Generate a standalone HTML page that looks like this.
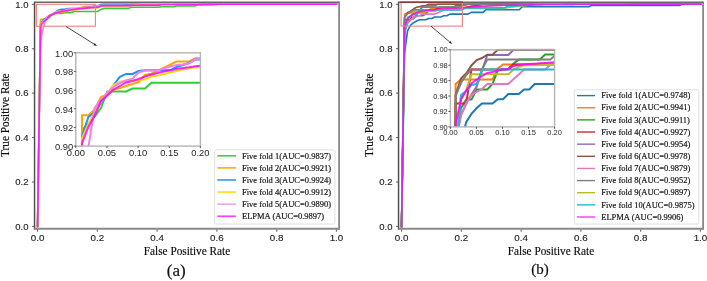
<!DOCTYPE html><html><head><meta charset="utf-8"><style>html,body{margin:0;padding:0;background:#fff;width:707px;height:281px;overflow:hidden}svg{display:block;will-change:transform}</style></head><body>
<svg width="707" height="281" viewBox="0 0 707 281">
<rect width="707" height="281" fill="#fff"/>
<g fill="none" stroke-width="1.6" stroke-linejoin="round" stroke-linecap="square">
<polyline points="37.55,226.40 40.57,22.63 43.59,21.13 46.61,19.46 49.63,17.44 52.65,13.51 55.67,13.51 58.68,13.51 61.70,13.51 64.72,12.80 67.74,12.80 70.76,12.80 73.78,11.44 76.80,11.44 79.82,11.44 82.84,11.44 85.86,11.44 88.88,11.44 91.90,11.44 94.91,11.44 97.93,11.44 100.95,9.41 103.97,8.41 106.99,8.41 110.01,8.41 113.03,8.41 116.05,8.41 119.07,8.41 122.09,8.41 125.11,8.41 128.13,8.41 131.14,7.30 134.16,7.30 137.18,7.30 140.20,7.30 143.22,7.30 146.24,7.30 149.26,7.30 152.28,7.30 155.30,7.30 158.32,7.30 161.34,6.74 164.36,6.74 167.38,6.74 170.39,6.74 173.41,6.74 176.43,5.97 179.45,5.97 182.47,5.97 185.49,5.97 188.51,5.97 191.53,5.97 194.55,5.97 197.57,4.97 200.59,4.87 203.61,4.78 206.62,4.68 209.64,4.59 212.66,4.49 215.68,4.40 218.70,4.30 221.72,4.30 224.74,4.30 227.76,4.30 230.78,4.30 233.80,4.30 236.82,4.30 239.84,4.30 242.86,4.30 245.87,4.30 248.89,4.30 251.91,4.30 254.93,4.30 257.95,4.30 260.97,4.30 263.99,4.30 267.01,4.30 270.03,4.30 273.05,4.30 276.07,4.30 279.09,4.30 282.10,4.30 285.12,4.30 288.14,4.30 291.16,4.30 294.18,4.30 297.20,4.30 300.22,4.30 303.24,4.30 306.26,4.30 309.28,4.30 312.30,4.30 315.32,4.30 318.33,4.30 321.35,4.30 324.37,4.30 327.39,4.30 330.41,4.30 333.43,4.30 336.45,4.30" stroke="#32cd32"/>
<polyline points="37.55,226.40 40.57,19.18 43.59,19.18 46.61,17.80 49.63,14.82 52.65,14.23 55.67,13.16 58.68,12.68 61.70,12.20 64.72,11.73 67.74,11.30 70.76,9.58 73.78,9.28 76.80,8.58 79.82,7.85 82.84,7.11 85.86,6.37 88.88,6.37 91.90,6.37 94.91,5.61 97.93,5.61 100.95,4.97 103.97,4.30 106.99,4.30 110.01,4.30 113.03,4.30 116.05,4.30 119.07,4.30 122.09,4.30 125.11,4.30 128.13,4.30 131.14,4.30 134.16,4.30 137.18,4.30 140.20,4.30 143.22,4.30 146.24,4.30 149.26,4.30 152.28,4.30 155.30,4.30 158.32,4.30 161.34,4.30 164.36,4.30 167.38,4.30 170.39,4.30 173.41,4.30 176.43,4.30 179.45,4.30 182.47,4.30 185.49,4.30 188.51,4.30 191.53,4.30 194.55,4.30 197.57,4.30 200.59,4.30 203.61,4.30 206.62,4.30 209.64,4.30 212.66,4.30 215.68,4.30 218.70,4.30 221.72,4.30 224.74,4.30 227.76,4.30 230.78,4.30 233.80,4.30 236.82,4.30 239.84,4.30 242.86,4.30 245.87,4.30 248.89,4.30 251.91,4.30 254.93,4.30 257.95,4.30 260.97,4.30 263.99,4.30 267.01,4.30 270.03,4.30 273.05,4.30 276.07,4.30 279.09,4.30 282.10,4.30 285.12,4.30 288.14,4.30 291.16,4.30 294.18,4.30 297.20,4.30 300.22,4.30 303.24,4.30 306.26,4.30 309.28,4.30 312.30,4.30 315.32,4.30 318.33,4.30 321.35,4.30 324.37,4.30 327.39,4.30 330.41,4.30 333.43,4.30 336.45,4.30" stroke="#ffa500"/>
<polyline points="37.55,226.40 40.57,24.11 43.59,19.58 46.61,18.39 49.63,16.25 52.65,14.11 55.67,11.97 58.68,10.04 61.70,9.32 64.72,9.32 67.74,8.63 70.76,8.47 73.78,8.47 76.80,8.47 79.82,8.47 82.84,8.47 85.86,7.68 88.88,7.20 91.90,6.73 94.91,5.92 97.93,5.92 100.95,4.30 103.97,4.30 106.99,4.30 110.01,4.30 113.03,4.30 116.05,4.30 119.07,4.30 122.09,4.30 125.11,4.30 128.13,4.30 131.14,4.30 134.16,4.30 137.18,4.30 140.20,4.30 143.22,4.30 146.24,4.30 149.26,4.30 152.28,4.30 155.30,4.30 158.32,4.30 161.34,4.30 164.36,4.30 167.38,4.30 170.39,4.30 173.41,4.30 176.43,4.30 179.45,4.30 182.47,4.30 185.49,4.30 188.51,4.30 191.53,4.30 194.55,4.30 197.57,4.30 200.59,4.30 203.61,4.30 206.62,4.30 209.64,4.30 212.66,4.30 215.68,4.30 218.70,4.30 221.72,4.30 224.74,4.30 227.76,4.30 230.78,4.30 233.80,4.30 236.82,4.30 239.84,4.30 242.86,4.30 245.87,4.30 248.89,4.30 251.91,4.30 254.93,4.30 257.95,4.30 260.97,4.30 263.99,4.30 267.01,4.30 270.03,4.30 273.05,4.30 276.07,4.30 279.09,4.30 282.10,4.30 285.12,4.30 288.14,4.30 291.16,4.30 294.18,4.30 297.20,4.30 300.22,4.30 303.24,4.30 306.26,4.30 309.28,4.30 312.30,4.30 315.32,4.30 318.33,4.30 321.35,4.30 324.37,4.30 327.39,4.30 330.41,4.30 333.43,4.30 336.45,4.30" stroke="#1e90ff"/>
<polyline points="37.55,226.40 40.57,24.58 43.59,21.25 46.61,18.39 49.63,16.01 52.65,13.87 55.67,11.97 58.68,11.25 61.70,10.89 64.72,10.89 67.74,10.77 70.76,10.68 73.78,9.94 76.80,9.73 79.82,9.35 82.84,8.97 85.86,8.63 88.88,8.28 91.90,7.97 94.91,7.75 97.93,7.75 100.95,6.52 103.97,6.45 106.99,6.37 110.01,6.30 113.03,6.22 116.05,6.15 119.07,6.08 122.09,6.00 125.11,5.93 128.13,5.85 131.14,5.47 134.16,5.08 137.18,4.69 140.20,4.30 143.22,4.30 146.24,4.30 149.26,4.30 152.28,4.30 155.30,4.30 158.32,4.30 161.34,4.30 164.36,4.30 167.38,4.30 170.39,4.30 173.41,4.30 176.43,4.30 179.45,4.30 182.47,4.30 185.49,4.30 188.51,4.30 191.53,4.30 194.55,4.30 197.57,4.30 200.59,4.30 203.61,4.30 206.62,4.30 209.64,4.30 212.66,4.30 215.68,4.30 218.70,4.30 221.72,4.30 224.74,4.30 227.76,4.30 230.78,4.30 233.80,4.30 236.82,4.30 239.84,4.30 242.86,4.30 245.87,4.30 248.89,4.30 251.91,4.30 254.93,4.30 257.95,4.30 260.97,4.30 263.99,4.30 267.01,4.30 270.03,4.30 273.05,4.30 276.07,4.30 279.09,4.30 282.10,4.30 285.12,4.30 288.14,4.30 291.16,4.30 294.18,4.30 297.20,4.30 300.22,4.30 303.24,4.30 306.26,4.30 309.28,4.30 312.30,4.30 315.32,4.30 318.33,4.30 321.35,4.30 324.37,4.30 327.39,4.30 330.41,4.30 333.43,4.30 336.45,4.30" stroke="#ffd700"/>
<polyline points="37.55,226.40 40.57,39.84 43.59,26.72 46.61,17.44 49.63,15.54 52.65,13.87 55.67,12.44 58.68,11.49 61.70,10.89 64.72,10.47 67.74,8.99 70.76,8.54 73.78,8.53 76.80,8.51 79.82,8.04 82.84,7.56 85.86,7.20 88.88,7.06 91.90,6.87 94.91,5.85 97.93,5.78 100.95,5.41 103.97,5.41 106.99,5.41 110.01,5.41 113.03,5.41 116.05,5.41 119.07,5.41 122.09,5.41 125.11,5.41 128.13,5.41 131.14,5.41 134.16,5.41 137.18,5.41 140.20,5.41 143.22,5.41 146.24,5.41 149.26,5.41 152.28,5.41 155.30,5.41 158.32,5.41 161.34,4.30 164.36,4.30 167.38,4.30 170.39,4.30 173.41,4.30 176.43,4.30 179.45,4.30 182.47,4.30 185.49,4.30 188.51,4.30 191.53,4.30 194.55,4.30 197.57,4.30 200.59,4.30 203.61,4.30 206.62,4.30 209.64,4.30 212.66,4.30 215.68,4.30 218.70,4.30 221.72,4.30 224.74,4.30 227.76,4.30 230.78,4.30 233.80,4.30 236.82,4.30 239.84,4.30 242.86,4.30 245.87,4.30 248.89,4.30 251.91,4.30 254.93,4.30 257.95,4.30 260.97,4.30 263.99,4.30 267.01,4.30 270.03,4.30 273.05,4.30 276.07,4.30 279.09,4.30 282.10,4.30 285.12,4.30 288.14,4.30 291.16,4.30 294.18,4.30 297.20,4.30 300.22,4.30 303.24,4.30 306.26,4.30 309.28,4.30 312.30,4.30 315.32,4.30 318.33,4.30 321.35,4.30 324.37,4.30 327.39,4.30 330.41,4.30 333.43,4.30 336.45,4.30" stroke="#ee82ee"/>
<polyline points="37.55,226.40 40.57,25.72 43.59,21.96 46.61,19.23 49.63,15.77 52.65,14.46 55.67,13.04 58.68,12.20 61.70,11.37 64.72,11.01 67.74,10.54 70.76,9.94 73.78,9.47 76.80,9.11 79.82,8.75 82.84,8.47 85.86,8.16 88.88,7.92 91.90,7.73 94.91,7.49 97.93,7.39 100.95,6.12 103.97,5.77 106.99,5.76 110.01,5.74 113.03,5.73 116.05,5.71 119.07,5.70 122.09,5.68 125.11,5.67 128.13,5.65 131.14,5.35 134.16,5.28 137.18,5.20 140.20,5.12 143.22,5.12 146.24,5.12 149.26,5.12 152.28,5.12 155.30,5.12 158.32,5.12 161.34,4.79 164.36,4.79 167.38,4.79 170.39,4.79 173.41,4.79 176.43,4.63 179.45,4.63 182.47,4.63 185.49,4.63 188.51,4.63 191.53,4.63 194.55,4.63 197.57,4.43 200.59,4.41 203.61,4.40 206.62,4.38 209.64,4.36 212.66,4.34 215.68,4.32 218.70,4.30 221.72,4.30 224.74,4.30 227.76,4.30 230.78,4.30 233.80,4.30 236.82,4.30 239.84,4.30 242.86,4.30 245.87,4.30 248.89,4.30 251.91,4.30 254.93,4.30 257.95,4.30 260.97,4.30 263.99,4.30 267.01,4.30 270.03,4.30 273.05,4.30 276.07,4.30 279.09,4.30 282.10,4.30 285.12,4.30 288.14,4.30 291.16,4.30 294.18,4.30 297.20,4.30 300.22,4.30 303.24,4.30 306.26,4.30 309.28,4.30 312.30,4.30 315.32,4.30 318.33,4.30 321.35,4.30 324.37,4.30 327.39,4.30 330.41,4.30 333.43,4.30 336.45,4.30" stroke="#ff00ff" stroke-opacity="0.8"/>
</g>
<rect x="36.4" y="4.3" width="59.0" height="21.9" fill="none" stroke="#f08080" stroke-width="1.1"/>
<line x1="37.55" y1="228.85" x2="37.55" y2="231.65" stroke="#6e6e6e" stroke-width="1.1"/>
<line x1="31.95" y1="226.40" x2="34.55" y2="226.40" stroke="#6e6e6e" stroke-width="1.1"/>
<text transform="translate(37.55,241.4) scale(1.09,1)" font-family='"Liberation Sans", sans-serif' font-size="9" text-anchor="middle" fill="#222" stroke="#222" stroke-width="0.12">0.0</text>
<text transform="translate(28.50,229.60) scale(1.06,1)" font-family='"Liberation Sans", sans-serif' font-size="9" text-anchor="end" fill="#222" stroke="#222" stroke-width="0.12">0.0</text>
<line x1="97.33" y1="228.85" x2="97.33" y2="231.65" stroke="#6e6e6e" stroke-width="1.1"/>
<line x1="31.95" y1="181.98" x2="34.55" y2="181.98" stroke="#6e6e6e" stroke-width="1.1"/>
<text transform="translate(97.33,241.4) scale(1.09,1)" font-family='"Liberation Sans", sans-serif' font-size="9" text-anchor="middle" fill="#222" stroke="#222" stroke-width="0.12">0.2</text>
<text transform="translate(28.50,185.18) scale(1.06,1)" font-family='"Liberation Sans", sans-serif' font-size="9" text-anchor="end" fill="#222" stroke="#222" stroke-width="0.12">0.2</text>
<line x1="157.11" y1="228.85" x2="157.11" y2="231.65" stroke="#6e6e6e" stroke-width="1.1"/>
<line x1="31.95" y1="137.56" x2="34.55" y2="137.56" stroke="#6e6e6e" stroke-width="1.1"/>
<text transform="translate(157.11,241.4) scale(1.09,1)" font-family='"Liberation Sans", sans-serif' font-size="9" text-anchor="middle" fill="#222" stroke="#222" stroke-width="0.12">0.4</text>
<text transform="translate(28.50,140.76) scale(1.06,1)" font-family='"Liberation Sans", sans-serif' font-size="9" text-anchor="end" fill="#222" stroke="#222" stroke-width="0.12">0.4</text>
<line x1="216.89" y1="228.85" x2="216.89" y2="231.65" stroke="#6e6e6e" stroke-width="1.1"/>
<line x1="31.95" y1="93.14" x2="34.55" y2="93.14" stroke="#6e6e6e" stroke-width="1.1"/>
<text transform="translate(216.89,241.4) scale(1.09,1)" font-family='"Liberation Sans", sans-serif' font-size="9" text-anchor="middle" fill="#222" stroke="#222" stroke-width="0.12">0.6</text>
<text transform="translate(28.50,96.34) scale(1.06,1)" font-family='"Liberation Sans", sans-serif' font-size="9" text-anchor="end" fill="#222" stroke="#222" stroke-width="0.12">0.6</text>
<line x1="276.67" y1="228.85" x2="276.67" y2="231.65" stroke="#6e6e6e" stroke-width="1.1"/>
<line x1="31.95" y1="48.72" x2="34.55" y2="48.72" stroke="#6e6e6e" stroke-width="1.1"/>
<text transform="translate(276.67,241.4) scale(1.09,1)" font-family='"Liberation Sans", sans-serif' font-size="9" text-anchor="middle" fill="#222" stroke="#222" stroke-width="0.12">0.8</text>
<text transform="translate(28.50,51.92) scale(1.06,1)" font-family='"Liberation Sans", sans-serif' font-size="9" text-anchor="end" fill="#222" stroke="#222" stroke-width="0.12">0.8</text>
<line x1="336.45" y1="228.85" x2="336.45" y2="231.65" stroke="#6e6e6e" stroke-width="1.1"/>
<line x1="31.95" y1="4.30" x2="34.55" y2="4.30" stroke="#6e6e6e" stroke-width="1.1"/>
<text transform="translate(336.45,241.4) scale(1.09,1)" font-family='"Liberation Sans", sans-serif' font-size="9" text-anchor="middle" fill="#222" stroke="#222" stroke-width="0.12">1.0</text>
<text transform="translate(28.50,7.50) scale(1.06,1)" font-family='"Liberation Sans", sans-serif' font-size="9" text-anchor="end" fill="#222" stroke="#222" stroke-width="0.12">1.0</text>
<line x1="34.55" y1="1.55" x2="34.55" y2="229.75" stroke="#4e4e4e" stroke-width="1.45"/>
<line x1="339.10" y1="1.55" x2="339.10" y2="229.75" stroke="#7a7a7a" stroke-width="1.6"/>
<line x1="34.55" y1="2.25" x2="339.10" y2="2.25" stroke="#686868" stroke-width="1.5"/>
<line x1="34.55" y1="228.85" x2="339.10" y2="228.85" stroke="#8a8a8a" stroke-width="2.0"/>
<text transform="translate(187,254.5) scale(0.985,1)" font-family='"Liberation Serif", serif' font-size="11.45" text-anchor="middle" fill="#0a0a0a" stroke="#0a0a0a" stroke-width="0.15">False Positive Rate</text>
<text transform="translate(9.0,115.2) rotate(-90) scale(0.985,1)" font-family='"Liberation Serif", serif' font-size="11.45" text-anchor="middle" fill="#0a0a0a" stroke="#0a0a0a" stroke-width="0.15">True Positive Rate</text>
<text x="176.20" y="275.5" font-family='"Liberation Serif", serif' font-size="17" text-anchor="middle" fill="#111" stroke="#111" stroke-width="0.2">(a)</text>
<g fill="none" stroke-width="1.6" stroke-linejoin="round" stroke-linecap="square">
<polyline points="401.55,226.40 404.57,53.16 407.59,30.95 410.61,25.18 413.63,22.74 416.65,21.07 419.67,19.80 422.68,19.80 425.70,19.80 428.72,18.53 431.74,18.53 434.76,17.03 437.78,17.03 440.80,17.03 443.82,15.74 446.84,15.74 449.86,14.15 452.88,14.15 455.90,14.15 458.91,14.15 461.93,14.15 464.95,14.15 467.97,14.15 470.99,12.41 474.01,12.41 477.03,12.41 480.05,12.41 483.07,12.41 486.09,9.70 489.11,9.70 492.13,9.70 495.14,9.70 498.16,9.70 501.18,9.70 504.20,9.70 507.22,9.70 510.24,9.70 513.26,9.70 516.28,9.70 519.30,9.70 522.32,6.74 525.34,6.74 528.36,6.74 531.38,6.74 534.39,6.74 537.41,6.74 540.43,6.74 543.45,6.74 546.47,6.74 549.49,6.74 552.51,6.74 555.53,6.74 558.55,6.74 561.57,6.74 564.59,6.74 567.61,6.74 570.62,6.74 573.64,6.74 576.66,6.74 579.68,6.74 582.70,6.74 585.72,6.74 588.74,6.74 591.76,5.41 594.78,5.41 597.80,5.41 600.82,5.41 603.84,5.41 606.86,5.41 609.87,5.41 612.89,5.41 615.91,5.41 618.93,5.41 621.95,5.41 624.97,5.41 627.99,5.41 631.01,5.41 634.03,5.41 637.05,5.41 640.07,5.41 643.09,5.41 646.10,5.41 649.12,5.41 652.14,5.41 655.16,5.41 658.18,5.41 661.20,5.41 664.22,5.41 667.24,5.41 670.26,5.41 673.28,5.41 676.30,5.41 679.32,5.41 682.33,4.30 685.35,4.30 688.37,4.30 691.39,4.30 694.41,4.30 697.43,4.30 700.45,4.30" stroke="#1f77b4"/>
<polyline points="401.55,226.40 404.57,14.15 407.59,12.86 410.61,12.86 413.63,12.86 416.65,12.86 419.67,12.86 422.68,12.86 425.70,12.86 428.72,9.69 431.74,8.51 434.76,8.51 437.78,8.51 440.80,8.51 443.82,8.51 446.84,8.51 449.86,8.51 452.88,8.51 455.90,8.51 458.91,8.51 461.93,8.51 464.95,7.51 467.97,6.52 470.99,5.97 474.01,5.41 477.03,4.86 480.05,4.30 483.07,4.30 486.09,4.30 489.11,4.30 492.13,4.30 495.14,4.30 498.16,4.30 501.18,4.30 504.20,4.30 507.22,4.30 510.24,4.30 513.26,4.30 516.28,4.30 519.30,4.30 522.32,4.30 525.34,4.30 528.36,4.30 531.38,4.30 534.39,4.30 537.41,4.30 540.43,4.30 543.45,4.30 546.47,4.30 549.49,4.30 552.51,4.30 555.53,4.30 558.55,4.30 561.57,4.30 564.59,4.30 567.61,4.30 570.62,4.30 573.64,4.30 576.66,4.30 579.68,4.30 582.70,4.30 585.72,4.30 588.74,4.30 591.76,4.30 594.78,4.30 597.80,4.30 600.82,4.30 603.84,4.30 606.86,4.30 609.87,4.30 612.89,4.30 615.91,4.30 618.93,4.30 621.95,4.30 624.97,4.30 627.99,4.30 631.01,4.30 634.03,4.30 637.05,4.30 640.07,4.30 643.09,4.30 646.10,4.30 649.12,4.30 652.14,4.30 655.16,4.30 658.18,4.30 661.20,4.30 664.22,4.30 667.24,4.30 670.26,4.30 673.28,4.30 676.30,4.30 679.32,4.30 682.33,4.30 685.35,4.30 688.37,4.30 691.39,4.30 694.41,4.30 697.43,4.30 700.45,4.30" stroke="#ff7f0e"/>
<polyline points="401.55,226.40 404.57,30.95 407.59,21.07 410.61,18.65 413.63,18.65 416.65,15.74 419.67,15.74 422.68,15.74 425.70,14.15 428.72,10.26 431.74,9.97 434.76,9.83 437.78,8.25 440.80,7.12 443.82,7.12 446.84,7.12 449.86,7.12 452.88,7.12 455.90,5.68 458.91,5.68 461.93,5.68 464.95,4.99 467.97,4.30 470.99,4.30 474.01,4.30 477.03,4.30 480.05,4.30 483.07,4.30 486.09,4.30 489.11,4.30 492.13,4.30 495.14,4.30 498.16,4.30 501.18,4.30 504.20,4.30 507.22,4.30 510.24,4.30 513.26,4.30 516.28,4.30 519.30,4.30 522.32,4.30 525.34,4.30 528.36,4.30 531.38,4.30 534.39,4.30 537.41,4.30 540.43,4.30 543.45,4.30 546.47,4.30 549.49,4.30 552.51,4.30 555.53,4.30 558.55,4.30 561.57,4.30 564.59,4.30 567.61,4.30 570.62,4.30 573.64,4.30 576.66,4.30 579.68,4.30 582.70,4.30 585.72,4.30 588.74,4.30 591.76,4.30 594.78,4.30 597.80,4.30 600.82,4.30 603.84,4.30 606.86,4.30 609.87,4.30 612.89,4.30 615.91,4.30 618.93,4.30 621.95,4.30 624.97,4.30 627.99,4.30 631.01,4.30 634.03,4.30 637.05,4.30 640.07,4.30 643.09,4.30 646.10,4.30 649.12,4.30 652.14,4.30 655.16,4.30 658.18,4.30 661.20,4.30 664.22,4.30 667.24,4.30 670.26,4.30 673.28,4.30 676.30,4.30 679.32,4.30 682.33,4.30 685.35,4.30 688.37,4.30 691.39,4.30 694.41,4.30 697.43,4.30 700.45,4.30" stroke="#2ca02c"/>
<polyline points="401.55,226.40 404.57,19.77 407.59,19.77 410.61,19.77 413.63,10.00 416.65,10.00 419.67,10.00 422.68,10.00 425.70,10.00 428.72,10.00 431.74,10.00 434.76,10.00 437.78,8.56 440.80,8.56 443.82,8.56 446.84,8.56 449.86,8.56 452.88,8.56 455.90,8.56 458.91,8.56 461.93,8.56 464.95,7.88 467.97,7.20 470.99,6.52 474.01,5.97 477.03,5.41 480.05,4.86 483.07,4.30 486.09,4.30 489.11,4.30 492.13,4.30 495.14,4.30 498.16,4.30 501.18,4.30 504.20,4.30 507.22,4.30 510.24,4.30 513.26,4.30 516.28,4.30 519.30,4.30 522.32,4.30 525.34,4.30 528.36,4.30 531.38,4.30 534.39,4.30 537.41,4.30 540.43,4.30 543.45,4.30 546.47,4.30 549.49,4.30 552.51,4.30 555.53,4.30 558.55,4.30 561.57,4.30 564.59,4.30 567.61,4.30 570.62,4.30 573.64,4.30 576.66,4.30 579.68,4.30 582.70,4.30 585.72,4.30 588.74,4.30 591.76,4.30 594.78,4.30 597.80,4.30 600.82,4.30 603.84,4.30 606.86,4.30 609.87,4.30 612.89,4.30 615.91,4.30 618.93,4.30 621.95,4.30 624.97,4.30 627.99,4.30 631.01,4.30 634.03,4.30 637.05,4.30 640.07,4.30 643.09,4.30 646.10,4.30 649.12,4.30 652.14,4.30 655.16,4.30 658.18,4.30 661.20,4.30 664.22,4.30 667.24,4.30 670.26,4.30 673.28,4.30 676.30,4.30 679.32,4.30 682.33,4.30 685.35,4.30 688.37,4.30 691.39,4.30 694.41,4.30 697.43,4.30 700.45,4.30" stroke="#d62728"/>
<polyline points="401.55,226.40 404.57,30.95 407.59,23.18 410.61,19.85 413.63,17.18 416.65,14.87 419.67,10.41 422.68,5.80 425.70,5.80 428.72,5.80 431.74,5.80 434.76,5.80 437.78,4.30 440.80,4.30 443.82,4.30 446.84,4.30 449.86,4.30 452.88,4.30 455.90,4.30 458.91,4.30 461.93,4.30 464.95,4.30 467.97,4.30 470.99,4.30 474.01,4.30 477.03,4.30 480.05,4.30 483.07,4.30 486.09,4.30 489.11,4.30 492.13,4.30 495.14,4.30 498.16,4.30 501.18,4.30 504.20,4.30 507.22,4.30 510.24,4.30 513.26,4.30 516.28,4.30 519.30,4.30 522.32,4.30 525.34,4.30 528.36,4.30 531.38,4.30 534.39,4.30 537.41,4.30 540.43,4.30 543.45,4.30 546.47,4.30 549.49,4.30 552.51,4.30 555.53,4.30 558.55,4.30 561.57,4.30 564.59,4.30 567.61,4.30 570.62,4.30 573.64,4.30 576.66,4.30 579.68,4.30 582.70,4.30 585.72,4.30 588.74,4.30 591.76,4.30 594.78,4.30 597.80,4.30 600.82,4.30 603.84,4.30 606.86,4.30 609.87,4.30 612.89,4.30 615.91,4.30 618.93,4.30 621.95,4.30 624.97,4.30 627.99,4.30 631.01,4.30 634.03,4.30 637.05,4.30 640.07,4.30 643.09,4.30 646.10,4.30 649.12,4.30 652.14,4.30 655.16,4.30 658.18,4.30 661.20,4.30 664.22,4.30 667.24,4.30 670.26,4.30 673.28,4.30 676.30,4.30 679.32,4.30 682.33,4.30 685.35,4.30 688.37,4.30 691.39,4.30 694.41,4.30 697.43,4.30 700.45,4.30" stroke="#9467bd"/>
<polyline points="401.55,226.40 404.57,17.32 407.59,12.57 410.61,11.13 413.63,8.82 416.65,7.24 419.67,6.66 422.68,5.71 425.70,5.71 428.72,4.30 431.74,4.30 434.76,4.30 437.78,4.30 440.80,4.30 443.82,4.30 446.84,4.30 449.86,4.30 452.88,4.30 455.90,4.30 458.91,4.30 461.93,4.30 464.95,4.30 467.97,4.30 470.99,4.30 474.01,4.30 477.03,4.30 480.05,4.30 483.07,4.30 486.09,4.30 489.11,4.30 492.13,4.30 495.14,4.30 498.16,4.30 501.18,4.30 504.20,4.30 507.22,4.30 510.24,4.30 513.26,4.30 516.28,4.30 519.30,4.30 522.32,4.30 525.34,4.30 528.36,4.30 531.38,4.30 534.39,4.30 537.41,4.30 540.43,4.30 543.45,4.30 546.47,4.30 549.49,4.30 552.51,4.30 555.53,4.30 558.55,4.30 561.57,4.30 564.59,4.30 567.61,4.30 570.62,4.30 573.64,4.30 576.66,4.30 579.68,4.30 582.70,4.30 585.72,4.30 588.74,4.30 591.76,4.30 594.78,4.30 597.80,4.30 600.82,4.30 603.84,4.30 606.86,4.30 609.87,4.30 612.89,4.30 615.91,4.30 618.93,4.30 621.95,4.30 624.97,4.30 627.99,4.30 631.01,4.30 634.03,4.30 637.05,4.30 640.07,4.30 643.09,4.30 646.10,4.30 649.12,4.30 652.14,4.30 655.16,4.30 658.18,4.30 661.20,4.30 664.22,4.30 667.24,4.30 670.26,4.30 673.28,4.30 676.30,4.30 679.32,4.30 682.33,4.30 685.35,4.30 688.37,4.30 691.39,4.30 694.41,4.30 697.43,4.30 700.45,4.30" stroke="#8c564b"/>
<polyline points="401.55,226.40 404.57,30.95 407.59,23.08 410.61,19.63 413.63,17.32 416.65,16.46 419.67,15.59 422.68,14.15 425.70,14.15 428.72,14.15 431.74,14.15 434.76,14.15 437.78,12.71 440.80,11.42 443.82,10.00 446.84,10.00 449.86,10.00 452.88,10.00 455.90,10.00 458.91,8.62 461.93,8.62 464.95,8.27 467.97,7.92 470.99,7.57 474.01,7.22 477.03,6.87 480.05,6.52 483.07,6.36 486.09,6.20 489.11,6.05 492.13,5.89 495.14,5.73 498.16,5.57 501.18,5.41 504.20,5.25 507.22,5.09 510.24,4.93 513.26,4.78 516.28,4.62 519.30,4.46 522.32,4.30 525.34,4.30 528.36,4.30 531.38,4.30 534.39,4.30 537.41,4.30 540.43,4.30 543.45,4.30 546.47,4.30 549.49,4.30 552.51,4.30 555.53,4.30 558.55,4.30 561.57,4.30 564.59,4.30 567.61,4.30 570.62,4.30 573.64,4.30 576.66,4.30 579.68,4.30 582.70,4.30 585.72,4.30 588.74,4.30 591.76,4.30 594.78,4.30 597.80,4.30 600.82,4.30 603.84,4.30 606.86,4.30 609.87,4.30 612.89,4.30 615.91,4.30 618.93,4.30 621.95,4.30 624.97,4.30 627.99,4.30 631.01,4.30 634.03,4.30 637.05,4.30 640.07,4.30 643.09,4.30 646.10,4.30 649.12,4.30 652.14,4.30 655.16,4.30 658.18,4.30 661.20,4.30 664.22,4.30 667.24,4.30 670.26,4.30 673.28,4.30 676.30,4.30 679.32,4.30 682.33,4.30 685.35,4.30 688.37,4.30 691.39,4.30 694.41,4.30 697.43,4.30 700.45,4.30" stroke="#e377c2"/>
<polyline points="401.55,226.40 404.57,17.61 407.59,13.86 410.61,11.56 413.63,9.97 416.65,9.97 419.67,9.97 422.68,7.09 425.70,7.09 428.72,7.09 431.74,7.09 434.76,7.09 437.78,7.09 440.80,7.09 443.82,7.09 446.84,7.09 449.86,7.09 452.88,7.09 455.90,7.09 458.91,7.09 461.93,5.80 464.95,5.05 467.97,4.30 470.99,4.30 474.01,4.30 477.03,4.30 480.05,4.30 483.07,4.30 486.09,4.30 489.11,4.30 492.13,4.30 495.14,4.30 498.16,4.30 501.18,4.30 504.20,4.30 507.22,4.30 510.24,4.30 513.26,4.30 516.28,4.30 519.30,4.30 522.32,4.30 525.34,4.30 528.36,4.30 531.38,4.30 534.39,4.30 537.41,4.30 540.43,4.30 543.45,4.30 546.47,4.30 549.49,4.30 552.51,4.30 555.53,4.30 558.55,4.30 561.57,4.30 564.59,4.30 567.61,4.30 570.62,4.30 573.64,4.30 576.66,4.30 579.68,4.30 582.70,4.30 585.72,4.30 588.74,4.30 591.76,4.30 594.78,4.30 597.80,4.30 600.82,4.30 603.84,4.30 606.86,4.30 609.87,4.30 612.89,4.30 615.91,4.30 618.93,4.30 621.95,4.30 624.97,4.30 627.99,4.30 631.01,4.30 634.03,4.30 637.05,4.30 640.07,4.30 643.09,4.30 646.10,4.30 649.12,4.30 652.14,4.30 655.16,4.30 658.18,4.30 661.20,4.30 664.22,4.30 667.24,4.30 670.26,4.30 673.28,4.30 676.30,4.30 679.32,4.30 682.33,4.30 685.35,4.30 688.37,4.30 691.39,4.30 694.41,4.30 697.43,4.30 700.45,4.30" stroke="#7f7f7f"/>
<polyline points="401.55,226.40 404.57,30.95 407.59,18.76 410.61,15.88 413.63,11.36 416.65,11.36 419.67,11.36 422.68,11.36 425.70,11.36 428.72,11.36 431.74,11.36 434.76,11.36 437.78,9.97 440.80,9.25 443.82,8.77 446.84,8.75 449.86,8.73 452.88,8.71 455.90,8.69 458.91,8.67 461.93,8.65 464.95,8.41 467.97,8.41 470.99,8.41 474.01,8.41 477.03,8.41 480.05,8.41 483.07,8.41 486.09,8.41 489.11,8.41 492.13,8.41 495.14,8.41 498.16,8.41 501.18,8.41 504.20,8.41 507.22,7.80 510.24,7.19 513.26,6.87 516.28,6.55 519.30,6.22 522.32,5.90 525.34,5.58 528.36,5.26 531.38,4.94 534.39,4.62 537.41,4.30 540.43,4.30 543.45,4.30 546.47,4.30 549.49,4.30 552.51,4.30 555.53,4.30 558.55,4.30 561.57,4.30 564.59,4.30 567.61,4.30 570.62,4.30 573.64,4.30 576.66,4.30 579.68,4.30 582.70,4.30 585.72,4.30 588.74,4.30 591.76,4.30 594.78,4.30 597.80,4.30 600.82,4.30 603.84,4.30 606.86,4.30 609.87,4.30 612.89,4.30 615.91,4.30 618.93,4.30 621.95,4.30 624.97,4.30 627.99,4.30 631.01,4.30 634.03,4.30 637.05,4.30 640.07,4.30 643.09,4.30 646.10,4.30 649.12,4.30 652.14,4.30 655.16,4.30 658.18,4.30 661.20,4.30 664.22,4.30 667.24,4.30 670.26,4.30 673.28,4.30 676.30,4.30 679.32,4.30 682.33,4.30 685.35,4.30 688.37,4.30 691.39,4.30 694.41,4.30 697.43,4.30 700.45,4.30" stroke="#bcbd22"/>
<polyline points="401.55,226.40 404.57,37.17 407.59,17.32 410.61,16.17 413.63,14.44 416.65,14.15 419.67,10.00 422.68,10.00 425.70,10.00 428.72,10.00 431.74,10.00 434.76,10.00 437.78,10.00 440.80,10.00 443.82,10.00 446.84,10.00 449.86,10.00 452.88,10.00 455.90,10.00 458.91,10.00 461.93,10.00 464.95,7.85 467.97,7.85 470.99,7.85 474.01,7.85 477.03,7.85 480.05,7.85 483.07,7.85 486.09,7.85 489.11,7.85 492.13,7.85 495.14,7.85 498.16,7.85 501.18,7.85 504.20,7.85 507.22,6.52 510.24,6.30 513.26,6.08 516.28,5.85 519.30,5.63 522.32,5.41 525.34,5.19 528.36,4.97 531.38,4.74 534.39,4.52 537.41,4.30 540.43,4.30 543.45,4.30 546.47,4.30 549.49,4.30 552.51,4.30 555.53,4.30 558.55,4.30 561.57,4.30 564.59,4.30 567.61,4.30 570.62,4.30 573.64,4.30 576.66,4.30 579.68,4.30 582.70,4.30 585.72,4.30 588.74,4.30 591.76,4.30 594.78,4.30 597.80,4.30 600.82,4.30 603.84,4.30 606.86,4.30 609.87,4.30 612.89,4.30 615.91,4.30 618.93,4.30 621.95,4.30 624.97,4.30 627.99,4.30 631.01,4.30 634.03,4.30 637.05,4.30 640.07,4.30 643.09,4.30 646.10,4.30 649.12,4.30 652.14,4.30 655.16,4.30 658.18,4.30 661.20,4.30 664.22,4.30 667.24,4.30 670.26,4.30 673.28,4.30 676.30,4.30 679.32,4.30 682.33,4.30 685.35,4.30 688.37,4.30 691.39,4.30 694.41,4.30 697.43,4.30 700.45,4.30" stroke="#17becf"/>
<polyline points="401.55,226.40 404.57,25.79 407.59,18.62 410.61,16.05 413.63,14.01 416.65,12.86 419.67,11.85 422.68,10.98 425.70,10.72 428.72,10.18 431.74,10.00 434.76,9.83 437.78,8.97 440.80,8.68 443.82,8.51 446.84,8.40 449.86,8.29 452.88,8.19 455.90,8.08 458.91,7.98 461.93,7.87 464.95,7.57 467.97,7.27 470.99,6.97 474.01,6.78 477.03,6.60 480.05,6.41 483.07,6.19 486.09,5.97 489.11,5.74 492.13,5.52 495.14,5.47 498.16,5.41 501.18,5.35 504.20,5.30 507.22,5.24 510.24,5.19 513.26,5.13 516.28,5.08 519.30,5.02 522.32,4.97 525.34,4.94 528.36,4.92 531.38,4.90 534.39,4.88 537.41,4.86 540.43,4.83 543.45,4.81 546.47,4.79 549.49,4.77 552.51,4.74 555.53,4.72 558.55,4.70 561.57,4.68 564.59,4.66 567.61,4.63 570.62,4.61 573.64,4.59 576.66,4.57 579.68,4.54 582.70,4.52 585.72,4.52 588.74,4.51 591.76,4.50 594.78,4.50 597.80,4.49 600.82,4.48 603.84,4.47 606.86,4.47 609.87,4.46 612.89,4.45 615.91,4.45 618.93,4.44 621.95,4.43 624.97,4.43 627.99,4.42 631.01,4.41 634.03,4.41 637.05,4.40 640.07,4.39 643.09,4.39 646.10,4.38 649.12,4.37 652.14,4.37 655.16,4.36 658.18,4.35 661.20,4.35 664.22,4.34 667.24,4.33 670.26,4.33 673.28,4.32 676.30,4.31 679.32,4.31 682.33,4.30 685.35,4.30 688.37,4.30 691.39,4.30 694.41,4.30 697.43,4.30 700.45,4.30" stroke="#ff00ff" stroke-opacity="0.8"/>
</g>
<rect x="401.1" y="2.5" width="61.3" height="23.6" fill="none" stroke="#f08080" stroke-width="1.1"/>
<line x1="401.55" y1="228.85" x2="401.55" y2="231.65" stroke="#6e6e6e" stroke-width="1.1"/>
<line x1="395.95" y1="226.40" x2="398.55" y2="226.40" stroke="#6e6e6e" stroke-width="1.1"/>
<text transform="translate(401.55,241.4) scale(1.09,1)" font-family='"Liberation Sans", sans-serif' font-size="9" text-anchor="middle" fill="#222" stroke="#222" stroke-width="0.12">0.0</text>
<text transform="translate(392.50,229.60) scale(1.06,1)" font-family='"Liberation Sans", sans-serif' font-size="9" text-anchor="end" fill="#222" stroke="#222" stroke-width="0.12">0.0</text>
<line x1="461.33" y1="228.85" x2="461.33" y2="231.65" stroke="#6e6e6e" stroke-width="1.1"/>
<line x1="395.95" y1="181.98" x2="398.55" y2="181.98" stroke="#6e6e6e" stroke-width="1.1"/>
<text transform="translate(461.33,241.4) scale(1.09,1)" font-family='"Liberation Sans", sans-serif' font-size="9" text-anchor="middle" fill="#222" stroke="#222" stroke-width="0.12">0.2</text>
<text transform="translate(392.50,185.18) scale(1.06,1)" font-family='"Liberation Sans", sans-serif' font-size="9" text-anchor="end" fill="#222" stroke="#222" stroke-width="0.12">0.2</text>
<line x1="521.11" y1="228.85" x2="521.11" y2="231.65" stroke="#6e6e6e" stroke-width="1.1"/>
<line x1="395.95" y1="137.56" x2="398.55" y2="137.56" stroke="#6e6e6e" stroke-width="1.1"/>
<text transform="translate(521.11,241.4) scale(1.09,1)" font-family='"Liberation Sans", sans-serif' font-size="9" text-anchor="middle" fill="#222" stroke="#222" stroke-width="0.12">0.4</text>
<text transform="translate(392.50,140.76) scale(1.06,1)" font-family='"Liberation Sans", sans-serif' font-size="9" text-anchor="end" fill="#222" stroke="#222" stroke-width="0.12">0.4</text>
<line x1="580.89" y1="228.85" x2="580.89" y2="231.65" stroke="#6e6e6e" stroke-width="1.1"/>
<line x1="395.95" y1="93.14" x2="398.55" y2="93.14" stroke="#6e6e6e" stroke-width="1.1"/>
<text transform="translate(580.89,241.4) scale(1.09,1)" font-family='"Liberation Sans", sans-serif' font-size="9" text-anchor="middle" fill="#222" stroke="#222" stroke-width="0.12">0.6</text>
<text transform="translate(392.50,96.34) scale(1.06,1)" font-family='"Liberation Sans", sans-serif' font-size="9" text-anchor="end" fill="#222" stroke="#222" stroke-width="0.12">0.6</text>
<line x1="640.67" y1="228.85" x2="640.67" y2="231.65" stroke="#6e6e6e" stroke-width="1.1"/>
<line x1="395.95" y1="48.72" x2="398.55" y2="48.72" stroke="#6e6e6e" stroke-width="1.1"/>
<text transform="translate(640.67,241.4) scale(1.09,1)" font-family='"Liberation Sans", sans-serif' font-size="9" text-anchor="middle" fill="#222" stroke="#222" stroke-width="0.12">0.8</text>
<text transform="translate(392.50,51.92) scale(1.06,1)" font-family='"Liberation Sans", sans-serif' font-size="9" text-anchor="end" fill="#222" stroke="#222" stroke-width="0.12">0.8</text>
<line x1="700.45" y1="228.85" x2="700.45" y2="231.65" stroke="#6e6e6e" stroke-width="1.1"/>
<line x1="395.95" y1="4.30" x2="398.55" y2="4.30" stroke="#6e6e6e" stroke-width="1.1"/>
<text transform="translate(700.45,241.4) scale(1.09,1)" font-family='"Liberation Sans", sans-serif' font-size="9" text-anchor="middle" fill="#222" stroke="#222" stroke-width="0.12">1.0</text>
<text transform="translate(392.50,7.50) scale(1.06,1)" font-family='"Liberation Sans", sans-serif' font-size="9" text-anchor="end" fill="#222" stroke="#222" stroke-width="0.12">1.0</text>
<line x1="398.55" y1="1.55" x2="398.55" y2="229.75" stroke="#4e4e4e" stroke-width="1.45"/>
<line x1="703.10" y1="1.55" x2="703.10" y2="229.75" stroke="#7a7a7a" stroke-width="1.6"/>
<line x1="398.55" y1="2.25" x2="703.10" y2="2.25" stroke="#686868" stroke-width="1.5"/>
<line x1="398.55" y1="228.85" x2="703.10" y2="228.85" stroke="#8a8a8a" stroke-width="2.0"/>
<text transform="translate(551,254.5) scale(0.985,1)" font-family='"Liberation Serif", serif' font-size="11.45" text-anchor="middle" fill="#0a0a0a" stroke="#0a0a0a" stroke-width="0.15">False Positive Rate</text>
<text transform="translate(373.0,115.2) rotate(-90) scale(0.985,1)" font-family='"Liberation Serif", serif' font-size="11.45" text-anchor="middle" fill="#0a0a0a" stroke="#0a0a0a" stroke-width="0.15">True Positive Rate</text>
<text x="540.02" y="273.6" font-family='"Liberation Serif", serif' font-size="15" text-anchor="middle" fill="#111" stroke="#111" stroke-width="0.2">(b)</text>
<line x1="400.1" y1="2.3" x2="462.9" y2="2.3" stroke="#8e3a3a" stroke-width="1.4"/>
<line x1="66.2" y1="26.6" x2="94.12" y2="44.09" stroke="#333" stroke-width="0.9"/>
<polygon points="97.0,45.9 93.46,45.15 94.78,43.04" fill="#222"/>
<line x1="431.0" y1="26.2" x2="449.60" y2="41.91" stroke="#333" stroke-width="0.9"/>
<polygon points="452.2,44.1 448.80,42.86 450.41,40.95" fill="#222"/>
<rect x="75.8" y="52.8" width="124.60" height="93.30" fill="#fff"/>
<clipPath id="clipL"><rect x="75.8" y="51.8" width="124.60" height="94.30"/></clipPath>
<g clip-path="url(#clipL)" fill="none" stroke-width="2.0" stroke-linejoin="miter">
<polyline points="75.80,985.80 82.09,129.80 88.39,123.50 94.68,116.50 100.97,108.00 107.26,91.50 113.56,91.50 119.85,91.50 126.14,91.50 132.44,88.50 138.73,88.50 145.02,88.50 151.32,82.80 157.61,82.80 163.90,82.80 170.19,82.80 176.49,82.80 182.78,82.80 189.07,82.80 195.37,82.80 201.66,82.80 207.95,74.26 214.24,70.06" stroke="#32cd32"/>
<polyline points="75.80,985.80 82.09,115.30 88.39,115.30 94.68,109.50 100.97,97.00 107.26,94.50 113.56,90.00 119.85,88.00 126.14,86.00 132.44,84.00 138.73,82.20 145.02,75.00 151.32,73.70 157.61,70.80 163.90,67.70 170.19,64.60 176.49,61.50 182.78,61.50 189.07,61.50 195.37,58.30 201.66,58.30 207.95,55.60 214.24,52.80" stroke="#ffa500"/>
<polyline points="75.80,985.80 82.09,136.00 88.39,117.00 94.68,112.00 100.97,103.00 107.26,94.00 113.56,85.00 119.85,76.90 126.14,73.90 132.44,73.90 138.73,71.00 145.02,70.30 151.32,70.30 157.61,70.30 163.90,70.30 170.19,70.30 176.49,67.00 182.78,65.00 189.07,63.00 195.37,59.60 201.66,59.60 207.95,52.80 214.24,52.80" stroke="#1e90ff"/>
<polyline points="75.80,985.80 82.09,138.00 88.39,124.00 94.68,112.00 100.97,102.00 107.26,93.00 113.56,85.00 119.85,82.00 126.14,80.50 132.44,80.50 138.73,80.00 145.02,79.60 151.32,76.50 157.61,75.60 163.90,74.00 170.19,72.40 176.49,71.00 182.78,69.50 189.07,68.20 195.37,67.30 201.66,67.30 207.95,62.13 214.24,61.82" stroke="#ffd700"/>
<polyline points="75.80,985.80 82.09,202.08 88.39,147.00 94.68,108.00 100.97,100.00 107.26,93.00 113.56,87.00 119.85,83.00 126.14,80.50 132.44,78.70 138.73,72.50 145.02,70.60 151.32,70.55 157.61,70.50 163.90,68.50 170.19,66.50 176.49,65.00 182.78,64.40 189.07,63.60 195.37,59.30 201.66,59.00 207.95,57.47 214.24,57.47" stroke="#ee82ee"/>
<polyline points="75.80,985.80 82.09,142.80 88.39,127.00 94.68,115.50 100.97,101.00 107.26,95.50 113.56,89.50 119.85,86.00 126.14,82.50 132.44,81.00 138.73,79.00 145.02,76.50 151.32,74.50 157.61,73.00 163.90,71.50 170.19,70.30 176.49,69.00 182.78,68.00 189.07,67.20 195.37,66.20 201.66,65.80 207.95,60.45 214.24,58.99" stroke="#ff00ff" stroke-opacity="0.85"/>
</g>
<rect x="75.8" y="52.8" width="124.60" height="93.30" fill="none" stroke="#b4b4b4" stroke-width="1.4"/>
<line x1="73.8" y1="146.10" x2="75.8" y2="146.10" stroke="#444" stroke-width="0.9"/>
<text transform="translate(73.10,150.04) scale(1.04,1)" font-family='"Liberation Sans", sans-serif' font-size="9" text-anchor="end" fill="#262626">0.90</text>
<line x1="73.8" y1="127.44" x2="75.8" y2="127.44" stroke="#444" stroke-width="0.9"/>
<text transform="translate(73.10,131.38) scale(1.04,1)" font-family='"Liberation Sans", sans-serif' font-size="9" text-anchor="end" fill="#262626">0.92</text>
<line x1="73.8" y1="108.78" x2="75.8" y2="108.78" stroke="#444" stroke-width="0.9"/>
<text transform="translate(73.10,112.72) scale(1.04,1)" font-family='"Liberation Sans", sans-serif' font-size="9" text-anchor="end" fill="#262626">0.94</text>
<line x1="73.8" y1="90.12" x2="75.8" y2="90.12" stroke="#444" stroke-width="0.9"/>
<text transform="translate(73.10,94.06) scale(1.04,1)" font-family='"Liberation Sans", sans-serif' font-size="9" text-anchor="end" fill="#262626">0.96</text>
<line x1="73.8" y1="71.46" x2="75.8" y2="71.46" stroke="#444" stroke-width="0.9"/>
<text transform="translate(73.10,75.40) scale(1.04,1)" font-family='"Liberation Sans", sans-serif' font-size="9" text-anchor="end" fill="#262626">0.98</text>
<line x1="73.8" y1="52.80" x2="75.8" y2="52.80" stroke="#444" stroke-width="0.9"/>
<text transform="translate(73.10,56.74) scale(1.04,1)" font-family='"Liberation Sans", sans-serif' font-size="9" text-anchor="end" fill="#262626">1.00</text>
<line x1="75.80" y1="146.1" x2="75.80" y2="148.1" stroke="#444" stroke-width="0.9"/>
<text transform="translate(75.80,155.58) scale(1.04,1)" font-family='"Liberation Sans", sans-serif' font-size="9" text-anchor="middle" fill="#262626">0.00</text>
<line x1="106.95" y1="146.1" x2="106.95" y2="148.1" stroke="#444" stroke-width="0.9"/>
<text transform="translate(106.95,155.58) scale(1.04,1)" font-family='"Liberation Sans", sans-serif' font-size="9" text-anchor="middle" fill="#262626">0.05</text>
<line x1="138.10" y1="146.1" x2="138.10" y2="148.1" stroke="#444" stroke-width="0.9"/>
<text transform="translate(138.10,155.58) scale(1.04,1)" font-family='"Liberation Sans", sans-serif' font-size="9" text-anchor="middle" fill="#262626">0.10</text>
<line x1="169.25" y1="146.1" x2="169.25" y2="148.1" stroke="#444" stroke-width="0.9"/>
<text transform="translate(169.25,155.58) scale(1.04,1)" font-family='"Liberation Sans", sans-serif' font-size="9" text-anchor="middle" fill="#262626">0.15</text>
<line x1="200.40" y1="146.1" x2="200.40" y2="148.1" stroke="#444" stroke-width="0.9"/>
<text transform="translate(200.40,155.58) scale(1.04,1)" font-family='"Liberation Sans", sans-serif' font-size="9" text-anchor="middle" fill="#262626">0.20</text>
<rect x="450.4" y="49.8" width="104.20" height="77.10" fill="#fff"/>
<clipPath id="clipR"><rect x="450.4" y="48.8" width="104.20" height="78.10"/></clipPath>
<g clip-path="url(#clipR)" fill="none" stroke-width="2.0" stroke-linejoin="miter">
<polyline points="450.40,820.80 455.66,219.42 460.93,142.32 466.19,122.27 471.45,113.80 476.71,108.00 481.98,103.60 487.24,103.60 492.50,103.60 497.76,99.20 503.03,99.20 508.29,94.00 513.55,94.00 518.81,94.00 524.08,89.50 529.34,89.50 534.60,84.00 539.86,84.00 545.13,84.00 550.39,84.00 555.65,84.00 560.92,84.00 566.18,84.00" stroke="#1f77b4"/>
<polyline points="450.40,820.80 455.66,84.00 460.93,79.50 466.19,79.50 471.45,79.50 476.71,79.50 481.98,79.50 487.24,79.50 492.50,79.50 497.76,68.50 503.03,64.40 508.29,64.40 513.55,64.40 518.81,64.40 524.08,64.40 529.34,64.40 534.60,64.40 539.86,64.40 545.13,64.40 550.39,64.40 555.65,64.40 560.92,60.96 566.18,57.51" stroke="#ff7f0e"/>
<polyline points="450.40,820.80 455.66,142.32 460.93,108.00 466.19,99.60 471.45,99.60 476.71,89.50 481.98,89.50 487.24,89.50 492.50,84.00 497.76,70.50 503.03,69.50 508.29,69.00 513.55,63.50 518.81,59.60 524.08,59.60 529.34,59.60 534.60,59.60 539.86,59.60 545.13,54.60 550.39,54.60 555.65,54.60 560.92,52.20 566.18,49.80" stroke="#2ca02c"/>
<polyline points="450.40,820.80 455.66,103.50 460.93,103.50 466.19,103.50 471.45,69.60 476.71,69.60 481.98,69.60 487.24,69.60 492.50,69.60 497.76,69.60 503.03,69.60 508.29,69.60 513.55,64.60 518.81,64.60 524.08,64.60 529.34,64.60 534.60,64.60 539.86,64.60 545.13,64.60 550.39,64.60 555.65,64.60 560.92,62.24 566.18,59.87" stroke="#d62728"/>
<polyline points="450.40,820.80 455.66,142.32 460.93,115.33 466.19,103.77 471.45,94.52 476.71,86.50 481.98,71.00 487.24,55.00 492.50,55.00 497.76,55.00 503.03,55.00 508.29,55.00 513.55,49.80 518.81,49.80 524.08,49.80 529.34,49.80 534.60,49.80 539.86,49.80 545.13,49.80 550.39,49.80 555.65,49.80 560.92,49.80 566.18,49.80" stroke="#9467bd"/>
<polyline points="450.40,820.80 455.66,95.00 460.93,78.50 466.19,73.50 471.45,65.50 476.71,60.00 481.98,58.00 487.24,54.70 492.50,54.70 497.76,49.80 503.03,49.80 508.29,49.80 513.55,49.80 518.81,49.80 524.08,49.80 529.34,49.80 534.60,49.80 539.86,49.80 545.13,49.80 550.39,49.80 555.65,49.80 560.92,49.80 566.18,49.80" stroke="#8c564b"/>
<polyline points="450.40,820.80 455.66,142.32 460.93,115.00 466.19,103.00 471.45,95.00 476.71,92.00 481.98,89.00 487.24,84.00 492.50,84.00 497.76,84.00 503.03,84.00 508.29,84.00 513.55,79.00 518.81,74.50 524.08,69.60 529.34,69.60 534.60,69.60 539.86,69.60 545.13,69.60 550.39,64.80 555.65,64.80 560.92,63.58 566.18,62.37" stroke="#e377c2"/>
<polyline points="450.40,820.80 455.66,96.00 460.93,83.00 466.19,75.00 471.45,69.50 476.71,69.50 481.98,69.50 487.24,59.50 492.50,59.50 497.76,59.50 503.03,59.50 508.29,59.50 513.55,59.50 518.81,59.50 524.08,59.50 529.34,59.50 534.60,59.50 539.86,59.50 545.13,59.50 550.39,59.50 555.65,55.00 560.92,52.40 566.18,49.80" stroke="#7f7f7f"/>
<polyline points="450.40,820.80 455.66,142.32 460.93,100.00 466.19,90.00 471.45,74.30 476.71,74.30 481.98,74.30 487.24,74.30 492.50,74.30 497.76,74.30 503.03,74.30 508.29,74.30 513.55,69.50 518.81,67.00 524.08,65.30 529.34,65.23 534.60,65.17 539.86,65.10 545.13,65.03 550.39,64.97 555.65,64.90 560.92,64.06 566.18,64.06" stroke="#bcbd22"/>
<polyline points="450.40,820.80 455.66,163.91 460.93,95.00 466.19,91.00 471.45,85.00 476.71,84.00 481.98,69.60 487.24,69.60 492.50,69.60 497.76,69.60 503.03,69.60 508.29,69.60 513.55,69.60 518.81,69.60 524.08,69.60 529.34,69.60 534.60,69.60 539.86,69.60 545.13,69.60 550.39,69.60 555.65,69.60 560.92,62.14 566.18,62.14" stroke="#17becf"/>
<polyline points="450.40,820.80 455.66,124.40 460.93,99.50 466.19,90.60 471.45,83.50 476.71,79.50 481.98,76.00 487.24,73.00 492.50,72.10 497.76,70.20 503.03,69.60 508.29,69.00 513.55,66.00 518.81,65.00 524.08,64.40 529.34,64.03 534.60,63.67 539.86,63.30 545.13,62.93 550.39,62.57 555.65,62.20 560.92,61.15 566.18,60.10" stroke="#ff00ff" stroke-opacity="0.85"/>
</g>
<rect x="450.4" y="49.8" width="104.20" height="77.10" fill="none" stroke="#b4b4b4" stroke-width="1.4"/>
<line x1="448.4" y1="126.90" x2="450.4" y2="126.90" stroke="#444" stroke-width="0.9"/>
<text transform="translate(447.70,129.59) scale(1.04,1)" font-family='"Liberation Sans", sans-serif' font-size="7.2" text-anchor="end" fill="#262626">0.90</text>
<line x1="448.4" y1="111.48" x2="450.4" y2="111.48" stroke="#444" stroke-width="0.9"/>
<text transform="translate(447.70,114.17) scale(1.04,1)" font-family='"Liberation Sans", sans-serif' font-size="7.2" text-anchor="end" fill="#262626">0.92</text>
<line x1="448.4" y1="96.06" x2="450.4" y2="96.06" stroke="#444" stroke-width="0.9"/>
<text transform="translate(447.70,98.75) scale(1.04,1)" font-family='"Liberation Sans", sans-serif' font-size="7.2" text-anchor="end" fill="#262626">0.94</text>
<line x1="448.4" y1="80.64" x2="450.4" y2="80.64" stroke="#444" stroke-width="0.9"/>
<text transform="translate(447.70,83.33) scale(1.04,1)" font-family='"Liberation Sans", sans-serif' font-size="7.2" text-anchor="end" fill="#262626">0.96</text>
<line x1="448.4" y1="65.22" x2="450.4" y2="65.22" stroke="#444" stroke-width="0.9"/>
<text transform="translate(447.70,67.91) scale(1.04,1)" font-family='"Liberation Sans", sans-serif' font-size="7.2" text-anchor="end" fill="#262626">0.98</text>
<line x1="448.4" y1="49.80" x2="450.4" y2="49.80" stroke="#444" stroke-width="0.9"/>
<text transform="translate(447.70,52.49) scale(1.04,1)" font-family='"Liberation Sans", sans-serif' font-size="7.2" text-anchor="end" fill="#262626">1.00</text>
<line x1="450.40" y1="126.9" x2="450.40" y2="128.9" stroke="#444" stroke-width="0.9"/>
<text transform="translate(450.40,135.08) scale(1.04,1)" font-family='"Liberation Sans", sans-serif' font-size="7.2" text-anchor="middle" fill="#262626">0.00</text>
<line x1="476.45" y1="126.9" x2="476.45" y2="128.9" stroke="#444" stroke-width="0.9"/>
<text transform="translate(476.45,135.08) scale(1.04,1)" font-family='"Liberation Sans", sans-serif' font-size="7.2" text-anchor="middle" fill="#262626">0.05</text>
<line x1="502.50" y1="126.9" x2="502.50" y2="128.9" stroke="#444" stroke-width="0.9"/>
<text transform="translate(502.50,135.08) scale(1.04,1)" font-family='"Liberation Sans", sans-serif' font-size="7.2" text-anchor="middle" fill="#262626">0.10</text>
<line x1="528.55" y1="126.9" x2="528.55" y2="128.9" stroke="#444" stroke-width="0.9"/>
<text transform="translate(528.55,135.08) scale(1.04,1)" font-family='"Liberation Sans", sans-serif' font-size="7.2" text-anchor="middle" fill="#262626">0.15</text>
<line x1="554.60" y1="126.9" x2="554.60" y2="128.9" stroke="#444" stroke-width="0.9"/>
<text transform="translate(554.60,135.08) scale(1.04,1)" font-family='"Liberation Sans", sans-serif' font-size="7.2" text-anchor="middle" fill="#262626">0.20</text>
<rect x="214.6" y="149.9" width="120.30" height="74.10" rx="1.5" fill="#fff" fill-opacity="0.8" stroke="#dcdcdc" stroke-width="0.9"/>
<line x1="217.3" y1="155.80" x2="236.0" y2="155.80" stroke="#32cd32" stroke-width="1.5"/>
<text x="241.95" y="158.50" font-family='"Liberation Serif", serif' font-size="8.5" fill="#141414" stroke="#141414" stroke-width="0.18">Five fold 1(AUC=0.9837)</text>
<line x1="217.3" y1="167.88" x2="236.0" y2="167.88" stroke="#ffa500" stroke-width="1.5"/>
<text x="241.95" y="170.58" font-family='"Liberation Serif", serif' font-size="8.5" fill="#141414" stroke="#141414" stroke-width="0.18">Five fold 2(AUC=0.9921)</text>
<line x1="217.3" y1="179.96" x2="236.0" y2="179.96" stroke="#1e90ff" stroke-width="1.5"/>
<text x="241.95" y="182.66" font-family='"Liberation Serif", serif' font-size="8.5" fill="#141414" stroke="#141414" stroke-width="0.18">Five fold 3(AUC=0.9924)</text>
<line x1="217.3" y1="192.04" x2="236.0" y2="192.04" stroke="#ffd700" stroke-width="1.5"/>
<text x="241.95" y="194.74" font-family='"Liberation Serif", serif' font-size="8.5" fill="#141414" stroke="#141414" stroke-width="0.18">Five fold 4(AUC=0.9912)</text>
<line x1="217.3" y1="204.12" x2="236.0" y2="204.12" stroke="#e47ae4" stroke-width="1.1"/>
<text x="241.95" y="206.82" font-family='"Liberation Serif", serif' font-size="8.5" fill="#141414" stroke="#141414" stroke-width="0.18">Five fold 5(AUC=0.9890)</text>
<line x1="217.3" y1="216.20" x2="236.0" y2="216.20" stroke="#ff00ff" stroke-width="1.5" stroke-opacity="0.8"/>
<text x="241.95" y="218.90" font-family='"Liberation Serif", serif' font-size="8.5" fill="#141414" stroke="#141414" stroke-width="0.18">ELPMA (AUC=0.9897)</text>
<rect x="574.3" y="89.8" width="124.50" height="134.20" rx="1.5" fill="#fff" fill-opacity="0.8" stroke="#dcdcdc" stroke-width="0.9"/>
<line x1="577.0" y1="95.60" x2="595.1" y2="95.60" stroke="#1f77b4" stroke-width="1.4"/>
<text x="601.2" y="98.30" font-family='"Liberation Serif", serif' font-size="8.5" fill="#141414" stroke="#141414" stroke-width="0.18">Five fold 1(AUC=0.9748)</text>
<line x1="577.0" y1="107.74" x2="595.1" y2="107.74" stroke="#ff7f0e" stroke-width="1.4"/>
<text x="601.2" y="110.44" font-family='"Liberation Serif", serif' font-size="8.5" fill="#141414" stroke="#141414" stroke-width="0.18">Five fold 2(AUC=0.9941)</text>
<line x1="577.0" y1="119.88" x2="595.1" y2="119.88" stroke="#2ca02c" stroke-width="1.4"/>
<text x="601.2" y="122.58" font-family='"Liberation Serif", serif' font-size="8.5" fill="#141414" stroke="#141414" stroke-width="0.18">Five fold 3(AUC=0.9911)</text>
<line x1="577.0" y1="132.02" x2="595.1" y2="132.02" stroke="#d62728" stroke-width="1.4"/>
<text x="601.2" y="134.72" font-family='"Liberation Serif", serif' font-size="8.5" fill="#141414" stroke="#141414" stroke-width="0.18">Five fold 4(AUC=0.9927)</text>
<line x1="577.0" y1="144.16" x2="595.1" y2="144.16" stroke="#9467bd" stroke-width="1.4"/>
<text x="601.2" y="146.86" font-family='"Liberation Serif", serif' font-size="8.5" fill="#141414" stroke="#141414" stroke-width="0.18">Five fold 5(AUC=0.9954)</text>
<line x1="577.0" y1="156.30" x2="595.1" y2="156.30" stroke="#8c564b" stroke-width="1.4"/>
<text x="601.2" y="159.00" font-family='"Liberation Serif", serif' font-size="8.5" fill="#141414" stroke="#141414" stroke-width="0.18">Five fold 6(AUC=0.9978)</text>
<line x1="577.0" y1="168.44" x2="595.1" y2="168.44" stroke="#e377c2" stroke-width="1.4"/>
<text x="601.2" y="171.14" font-family='"Liberation Serif", serif' font-size="8.5" fill="#141414" stroke="#141414" stroke-width="0.18">Five fold 7(AUC=0.9879)</text>
<line x1="577.0" y1="180.58" x2="595.1" y2="180.58" stroke="#7f7f7f" stroke-width="1.4"/>
<text x="601.2" y="183.28" font-family='"Liberation Serif", serif' font-size="8.5" fill="#141414" stroke="#141414" stroke-width="0.18">Five fold 8(AUC=0.9952)</text>
<line x1="577.0" y1="192.72" x2="595.1" y2="192.72" stroke="#bcbd22" stroke-width="1.4"/>
<text x="601.2" y="195.42" font-family='"Liberation Serif", serif' font-size="8.5" fill="#141414" stroke="#141414" stroke-width="0.18">Five fold 9(AUC=0.9897)</text>
<line x1="577.0" y1="204.86" x2="595.1" y2="204.86" stroke="#17becf" stroke-width="1.4"/>
<text x="601.2" y="207.56" font-family='"Liberation Serif", serif' font-size="8.5" fill="#141414" stroke="#141414" stroke-width="0.18">Five fold 10(AUC=0.9875)</text>
<line x1="577.0" y1="217.00" x2="595.1" y2="217.00" stroke="#ff00ff" stroke-width="1.4" stroke-opacity="0.8"/>
<text x="601.2" y="219.70" font-family='"Liberation Serif", serif' font-size="8.5" fill="#141414" stroke="#141414" stroke-width="0.18">ELPMA (AUC=0.9906)</text>
</svg></body></html>
